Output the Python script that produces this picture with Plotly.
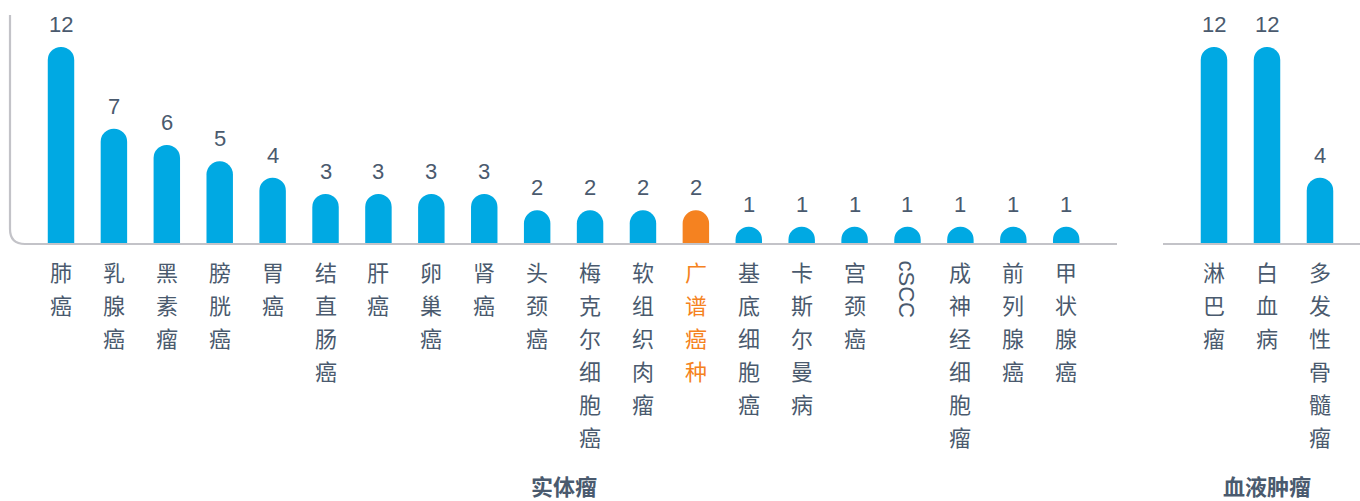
import plotly.graph_objects as go

W, H = 1360, 501

solid_cats = ["肺癌", "乳腺癌", "黑素瘤", "膀胱癌", "胃癌", "结直肠癌", "肝癌", "卵巢癌", "肾癌",
              "头颈癌", "梅克尔细胞癌", "软组织肉瘤", "广谱癌种", "基底细胞癌", "卡斯尔曼病",
              "宫颈癌", "cSCC", "成神经细胞瘤", "前列腺癌", "甲状腺癌"]
solid_vals = [12, 7, 6, 5, 4, 3, 3, 3, 3, 2, 2, 2, 2, 1, 1, 1, 1, 1, 1, 1]
heme_cats = ["淋巴瘤", "白血病", "多发性骨髓瘤"]
heme_vals = [12, 12, 4]
highlight = "广谱癌种"
group_titles = ["实体瘤", "血液肿瘤"]

BLUE = "#00a9e3"
ORANGE = "#f58220"
TEXT = "#4a5a6e"
AXIS = "#c3c3c8"
FONT = "Liberation Sans, Arial, Noto Sans CJK SC, sans-serif"
CJK = "Noto Sans CJK SC, Liberation Sans, sans-serif"


def px(x):
    return x / W


def py(y):
    return 1 - y / H


fig = go.Figure()

fig.add_trace(go.Bar(
    x=solid_cats, y=solid_vals, xaxis="x", yaxis="y", width=0.5,
    marker=dict(color=[ORANGE if c == highlight else BLUE for c in solid_cats],
                cornerradius=13, line=dict(width=0)),
    hoverinfo="x+y", showlegend=False,
))
fig.add_trace(go.Bar(
    x=heme_cats, y=heme_vals, xaxis="x2", yaxis="y2", width=0.5,
    marker=dict(color=BLUE, cornerradius=13, line=dict(width=0)),
    hoverinfo="x+y", showlegend=False,
))

annotations = []
for cats, vals, xr in [(solid_cats, solid_vals, "x"), (heme_cats, heme_vals, "x2")]:
    yr = "y" if xr == "x" else "y2"
    for c, v in zip(cats, vals):
        annotations.append(dict(
            x=c, y=v, xref=xr, yref=yr, text=str(v), showarrow=False,
            xanchor="center", yanchor="bottom", yshift=8,
            font=dict(family=FONT, size=22, color=TEXT),
        ))
        col = ORANGE if c == highlight else TEXT
        if c.isascii():
            annotations.append(dict(
                x=c, y=py(290), xref=xr, yref="paper", text=c, showarrow=False,
                xanchor="center", yanchor="middle",
                textangle=90, font=dict(family=FONT, size=22, color=col),
            ))
        else:
            for k, ch in enumerate(c):
                annotations.append(dict(
                    x=c, y=py(271 + 33 * k), xref=xr, yref="paper", text=ch,
                    xanchor="center", yanchor="middle",
                    showarrow=False, font=dict(family=CJK, size=22, color=col),
                ))

for gx, title in zip([564, 1267], group_titles):
    annotations.append(dict(x=px(gx), y=py(485), xref="paper", yref="paper",
                            text="<b>" + title + "</b>", xanchor="center", yanchor="middle",
                            borderpad=0,
                            showarrow=False, font=dict(family=CJK, size=22, color=TEXT)))

base_y = 244
r = 15
shapes = [
    dict(type="path", xref="paper", yref="paper",
         path=(f"M {px(10)} {py(15)} L {px(10)} {py(base_y - r)} "
               f"Q {px(10)} {py(base_y)} {px(10 + r)} {py(base_y)} "
               f"L {px(1117)} {py(base_y)}"),
         line=dict(color=AXIS, width=2.2), layer="below"),
    dict(type="line", xref="paper", yref="paper", x0=px(1163), x1=1.0,
         y0=py(base_y), y1=py(base_y), line=dict(color=AXIS, width=2.2), layer="below"),
]

ymax = 243 / (196 / 12)
fig.update_layout(
    width=W, height=H, margin=dict(l=0, r=0, t=0, b=0),
    paper_bgcolor="white", plot_bgcolor="rgba(0,0,0,0)",
    xaxis=dict(domain=[px(10), px(1117)], range=[-0.964, 19.96], type="category",
               visible=False, anchor="y"),
    yaxis=dict(domain=[py(243), 1], range=[0, ymax], visible=False, anchor="x"),
    xaxis2=dict(domain=[px(1163), 1], range=[-0.962, 2.755], type="category",
                visible=False, anchor="y2"),
    yaxis2=dict(domain=[py(243), 1], range=[0, ymax], visible=False, anchor="x2"),
    annotations=annotations, shapes=shapes, bargap=0.5,
)

fig.write_html("out.html")
